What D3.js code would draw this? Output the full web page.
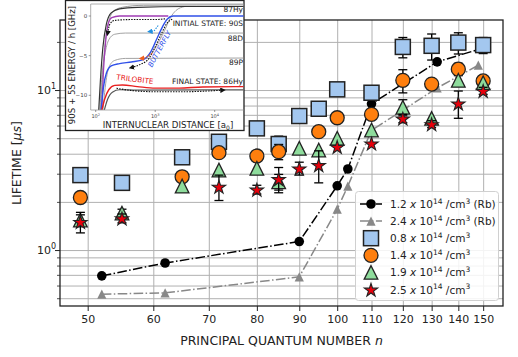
<!DOCTYPE html>
<html>
<head>
<meta charset="utf-8">
<script src="https://cdn.jsdelivr.net/npm/d3@7"></script>
<style>
body { margin: 0; background: #fff; }
text { font-family: "DejaVu Sans", sans-serif; }
</style>
</head>
<body>
<div id="chart"></div>
<script>
// ---------- data ----------
var xTicks = [50, 60, 70, 80, 90, 100, 110, 120, 130, 140, 150];
var yMajor = [1, 10];
var yMinor = [0.5, 0.6, 0.7, 0.8, 0.9, 2, 3, 4, 5, 6, 7, 8, 9, 20];

// Rb densities (lines)
var rbLowN = [52, 62, 90, 100, 103, 110, 132, 150];
var rbLow  = [0.69, 0.83, 1.13, 2.52, 3.21, 8.2, 15.0, 18.3];
var rbHighN = [52, 62, 90, 100, 103, 110, 132, 148];
var rbHigh  = [0.53, 0.54, 0.68, 1.80, 2.51, 5.6, 10.3, 14.3];

// 0.8e14 squares
var sqN   = [49, 55, 65, 72, 80, 85, 90, 95, 100, 110, 120, 130, 140, 150];
var sqV   = [2.94, 2.63, 3.80, 4.75, 5.76, 4.6, 6.88, 7.64, 10.1, 9.62, 18.6, 18.9, 19.8, 19.1];
var sqErr = [0, 0, 0, 0, 0, 0.55, 0, 0, 0, 0, 2.7, 3.5, 3.0, 2.2];
// 1.4e14 circles
var ciN   = [49, 65, 72, 80, 85, 95, 100, 110, 120, 130, 140, 150];
var ciV   = [2.13, 2.87, 4.06, 3.87, 4.12, 5.49, 6.71, 7.05, 11.5, 10.9, 13.5, 11.4];
var ciErr = [0, 0, 0, 0, 0.45, 0, 0, 0, 1.9, 0, 1.2, 0];
// 1.9e14 triangles
var trN   = [49, 55, 65, 72, 80, 85, 90, 95, 100, 110, 120, 130, 140, 150];
var trV   = [1.54, 1.70, 2.51, 3.16, 3.24, 2.67, 4.32, 4.22, 4.99, 5.62, 7.8, 6.65, 11.5, 11.1];
var trErr = [0.12, 0.1, 0, 0, 0, 0.3, 0, 0, 0, 0, 0.9, 0, 0, 0];
// 2.5e14 stars
var stN   = [49, 55, 72, 80, 85, 90, 95, 100, 110, 120, 130, 140, 150];
var stV   = [1.50, 1.58, 2.49, 2.39, 2.78, 3.24, 3.40, 4.42, 4.64, 6.65, 6.13, 8.26, 9.9];
var stErr = [0.22, 0.1, 0.45, 0.15, 0.5, 0.3, 0.77, 0, 0, 0.4, 0.3, 1.6, 0.5];

var legendDens = ["1.2", "2.4", "0.8", "1.4", "1.9", "2.5"];
var legendSuffix = [" (Rb)", " (Rb)", "", "", "", ""];

// inset: potential curves, [log10 R, E in GHz]
var curveHyTop  = [[2.05,-12],[2.08,-8],[2.12,-4],[2.18,-1],[2.26,0.4],[2.4,0.9],[2.7,1.1],[3.5,1.2],[4.6,1.2]];
var curveHyTop2 = [[2.08,-12],[2.11,-8],[2.15,-4],[2.21,-1],[2.3,0.6],[2.45,1.1],[2.8,1.35],[4.6,1.4]];
var curvePurple = [[2.1,-12],[2.13,-7],[2.17,-3],[2.21,-1],[2.27,-0.2],[2.4,0],[3.22,0]];
var curveD      = [[2.07,-12],[2.1,-8],[2.15,-5],[2.22,-3],[2.32,-2.3],[2.5,-2.15],[4.6,-2.15]];
var curveP      = [[2.12,-12],[2.16,-9],[2.22,-6.5],[2.32,-5.6],[2.5,-5.35],[4.6,-5.3]];
var curveBlue   = [[2.09,-12],[2.13,-9],[2.18,-7.2],[2.26,-6.3],[2.4,-6.0],[2.6,-5.8],[2.8,-5.5],[2.92,-4.6],[3.02,-3.0],[3.12,-1.4],[3.2,-0.4],[3.3,0],[4.6,0]];
var curveRise   = [[2.85,-5.3],[2.98,-4.3],[3.08,-3.0],[3.16,-1.8],[3.25,-0.3],[3.35,0.7],[3.5,1.2]];
var curveRed    = [[2.1,-12],[2.15,-10.5],[2.22,-9.3],[2.32,-8.75],[2.45,-8.7],[2.7,-8.9],[3.0,-9.1],[3.4,-9.1],[3.8,-8.95],[4.6,-8.9]];
var curveHyLow  = [[2.14,-12],[2.2,-10.5],[2.28,-9.6],[2.4,-9.3],[2.7,-9.35],[4.6,-9.3]];
var pathTop     = [[2.2,-2.2],[2.24,-1.0],[2.32,-0.55],[2.6,-0.45],[3.0,-0.45],[3.18,-0.35]];
var pathButter  = [[2.6,-6.5],[2.75,-6.1],[2.9,-5.3],[3.0,-3.9],[3.1,-2.3],[3.2,-0.9],[3.3,-0.35]];
var pathLow     = [[2.35,-9.1],[2.6,-9.4],[3.0,-9.55],[3.5,-9.55],[3.9,-9.45],[4.14,-9.35]];
var arrowOrange = [[2.95,-4.7],[2.83,-5.3],[2.77,-5.35]];
var arrowBlue   = [[3.05,-1.2],[2.98,-1.9],[2.91,-1.95]];

// ---------- layout ----------
var W = 518, H = 357;
var L = 60, R = 503, T = 20, B = 306;
var ink = "#222";

var svg = d3.select("#chart").append("svg").attr("width", W).attr("height", H);

var x = d3.scaleLog().domain([46.3, 158.5]).range([L, R]);
var y = d3.scaleLog().domain([0.447, 27.4]).range([B, T]);

// grid
svg.append("g").attr("transform", "translate(0," + B + ")")
  .call(d3.axisBottom(x).tickValues(xTicks).tickSize(-(B - T)).tickFormat(""))
  .call(g => g.select(".domain").remove())
  .selectAll("line").attr("stroke", "#b0b0b0").attr("stroke-width", 1);
svg.append("g").attr("transform", "translate(" + L + ",0)")
  .call(d3.axisLeft(y).tickValues(yMajor.concat(yMinor)).tickSize(-(R - L)).tickFormat(""))
  .call(g => g.select(".domain").remove())
  .selectAll("line").attr("stroke", "#b0b0b0").attr("stroke-width", 1);

// axes ticks
var xa = svg.append("g").attr("transform", "translate(0," + B + ")")
  .call(d3.axisBottom(x).tickValues(xTicks).tickSize(5).tickPadding(4).tickFormat(d3.format("d")));
xa.select(".domain").remove();
xa.selectAll("text").attr("font-size", "11px").attr("fill", ink);
xa.selectAll("line").attr("stroke", ink);

var ya = svg.append("g").attr("transform", "translate(" + L + ",0)")
  .call(d3.axisLeft(y).tickValues(yMajor).tickSize(5).tickFormat(""));
ya.select(".domain").remove();
ya.selectAll("line").attr("stroke", ink);
var ym = svg.append("g").attr("transform", "translate(" + L + ",0)")
  .call(d3.axisLeft(y).tickValues(yMinor).tickSize(3).tickFormat(""));
ym.select(".domain").remove();
ym.selectAll("line").attr("stroke", ink).attr("stroke-width", 0.8);

yMajor.forEach(function(v) {
  var t = svg.append("text").attr("x", 56).attr("y", y(v) + 4).attr("text-anchor", "end")
    .attr("font-size", "11px").attr("fill", ink);
  t.append("tspan").text("10");
  t.append("tspan").attr("dy", -5).attr("font-size", "8px").text(Math.round(Math.log10(v)));
});

// axis labels
var xl = svg.append("text").attr("x", (L + R) / 2).attr("y", 345).attr("text-anchor", "middle")
  .attr("font-size", "12.5px").attr("fill", ink);
xl.append("tspan").text("PRINCIPAL QUANTUM NUMBER ");
xl.append("tspan").attr("font-style", "italic").text("n");
var yl = svg.append("text").attr("transform", "translate(21," + ((T + B) / 2) + ") rotate(-90)")
  .attr("text-anchor", "middle").attr("font-size", "12.5px").attr("fill", ink);
yl.append("tspan").text("LIFETIME [");
yl.append("tspan").attr("font-style", "italic").text("μs");
yl.append("tspan").text("]");

// ---------- series ----------
var dashDot = "9.6,2.4,1.5,2.4";
function zip(ns, vs, es) { return ns.map(function(n, i) { return {n: n, v: vs[i], e: es ? es[i] : 0}; }); }

var line = d3.line().x(d => x(d.n)).y(d => y(d.v));
var rbA = zip(rbLowN, rbLow), rbB = zip(rbHighN, rbHigh);

svg.append("path").datum(rbA).attr("d", line).attr("fill", "none")
  .attr("stroke", "#000").attr("stroke-width", 1.5).attr("stroke-dasharray", dashDot);
svg.selectAll(".rba").data(rbA).enter().append("circle")
  .attr("cx", d => x(d.n)).attr("cy", d => y(d.v)).attr("r", 4.8).attr("fill", "#000");

function triPath(h) { return "M0," + (-h) + "L" + (-h) + "," + h + "L" + h + "," + h + "Z"; }

svg.append("path").datum(rbB).attr("d", line).attr("fill", "none")
  .attr("stroke", "#888").attr("stroke-width", 1.5).attr("stroke-dasharray", dashDot);
svg.selectAll(".rbb").data(rbB).enter().append("path")
  .attr("d", triPath(4.6)).attr("transform", d => "translate(" + x(d.n) + "," + y(d.v) + ")")
  .attr("fill", "#888");

function errBars(data) {
  var eb = svg.append("g").attr("stroke", "#000").attr("stroke-width", 1.3);
  data.filter(d => d.e > 0).forEach(function(d) {
    var cx = x(d.n), y0 = y(d.v - d.e), y1 = y(d.v + d.e);
    eb.append("line").attr("x1", cx).attr("x2", cx).attr("y1", y0).attr("y2", y1);
    eb.append("line").attr("x1", cx - 4.5).attr("x2", cx + 4.5).attr("y1", y0).attr("y2", y0);
    eb.append("line").attr("x1", cx - 4.5).attr("x2", cx + 4.5).attr("y1", y1).attr("y2", y1);
  });
}

var sqColor = "#a3c7ef", ciColor = "#ff7f0e", trColor = "#8edc9c", stColor = "#e8000b";
var sqD = zip(sqN, sqV, sqErr), ciD = zip(ciN, ciV, ciErr), trD = zip(trN, trV, trErr), stD = zip(stN, stV, stErr);

errBars(sqD);
svg.append("g").selectAll("rect").data(sqD).enter().append("rect")
  .attr("x", d => x(d.n) - 7.5).attr("y", d => y(d.v) - 7.5).attr("width", 15).attr("height", 15)
  .attr("fill", sqColor).attr("stroke", ink).attr("stroke-width", 1.5);

errBars(ciD);
svg.append("g").selectAll("circle").data(ciD).enter().append("circle")
  .attr("cx", d => x(d.n)).attr("cy", d => y(d.v)).attr("r", 7)
  .attr("fill", ciColor).attr("stroke", ink).attr("stroke-width", 1.3);

errBars(trD);
svg.append("g").selectAll("path").data(trD).enter().append("path")
  .attr("d", triPath(6.8)).attr("transform", d => "translate(" + x(d.n) + "," + y(d.v) + ")")
  .attr("fill", trColor).attr("stroke", ink).attr("stroke-width", 1.3);

var star = d3.symbol(d3.symbolStar).size(55);
errBars(stD);
svg.append("g").selectAll("path").data(stD).enter().append("path")
  .attr("d", star).attr("transform", d => "translate(" + x(d.n) + "," + (y(d.v) + 0.8) + ")")
  .attr("fill", stColor).attr("stroke", ink).attr("stroke-width", 1.1);

// frame
svg.append("rect").attr("x", L).attr("y", T).attr("width", R - L).attr("height", B - T)
  .attr("fill", "none").attr("stroke", ink).attr("stroke-width", 1.3);

// ---------- legend ----------
var lg = svg.append("g");
lg.append("rect").attr("x", 355.5).attr("y", 191.5).attr("width", 143).attr("height", 109).attr("rx", 3)
  .attr("fill", "#fff").attr("fill-opacity", 0.85).attr("stroke", "#d0d0d0");
var ly = d3.scaleLinear().domain([0, 5]).range([204, 289.5]);
legendDens.forEach(function(dv, i) {
  var cy = ly(i), cx = 371;
  var it = lg.append("g");
  if (i === 0) {
    it.append("line").attr("x1", 360).attr("x2", 382).attr("y1", cy).attr("y2", cy).attr("stroke", "#000").attr("stroke-width", 1.5).attr("stroke-dasharray", dashDot);
    it.append("circle").attr("cx", cx).attr("cy", cy).attr("r", 4.8).attr("fill", "#000");
  } else if (i === 1) {
    it.append("line").attr("x1", 360).attr("x2", 382).attr("y1", cy).attr("y2", cy).attr("stroke", "#888").attr("stroke-width", 1.5).attr("stroke-dasharray", dashDot);
    it.append("path").attr("d", triPath(4.6)).attr("transform", "translate(" + cx + "," + cy + ")").attr("fill", "#888");
  } else if (i === 2) {
    it.append("rect").attr("x", cx - 7.5).attr("y", cy - 7.5).attr("width", 15).attr("height", 15).attr("fill", sqColor).attr("stroke", ink).attr("stroke-width", 1.5);
  } else if (i === 3) {
    it.append("circle").attr("cx", cx).attr("cy", cy).attr("r", 7).attr("fill", ciColor).attr("stroke", ink).attr("stroke-width", 1.3);
  } else if (i === 4) {
    it.append("path").attr("d", triPath(6.8)).attr("transform", "translate(" + cx + "," + cy + ")").attr("fill", trColor).attr("stroke", ink).attr("stroke-width", 1.3);
  } else {
    it.append("path").attr("d", star).attr("transform", "translate(" + cx + "," + (cy + 0.8) + ")").attr("fill", stColor).attr("stroke", ink).attr("stroke-width", 1.1);
  }
  var t = it.append("text").attr("x", 390).attr("y", cy + 4).attr("font-size", "10.5px").attr("fill", ink);
  t.append("tspan").text(dv + " ");
  t.append("tspan").attr("font-style", "italic").text("x");
  t.append("tspan").text(" 10");
  t.append("tspan").attr("dy", -4.5).attr("font-size", "7.5px").text("14");
  t.append("tspan").attr("dy", 4.5).text(" /cm");
  t.append("tspan").attr("dy", -4.5).attr("font-size", "7.5px").text("3");
  if (legendSuffix[i]) t.append("tspan").attr("dy", 4.5).text(legendSuffix[i]);
});

// ---------- inset ----------
var ins = svg.append("g");
ins.append("rect").attr("x", 65.5).attr("y", 0.5).attr("width", 178.5).attr("height", 130)
  .attr("fill", "#fff").attr("stroke", ink).attr("stroke-width", 1.3);

var IL = 90.7, IR = 243.5, IT = 4, IB = 110;
var xi = d3.scaleLinear().domain([2, 4]).range([95.7, 214.7]);
var yi = d3.scaleLinear().domain([0, -10]).range([16, 95.3]);

var defs = svg.append("defs");
defs.append("clipPath").attr("id", "iclip").append("rect").attr("x", IL).attr("y", IT).attr("width", IR - IL).attr("height", IB - IT);
function arrowHead(id, col) {
  defs.append("marker").attr("id", id).attr("viewBox", "0 0 10 10").attr("refX", 5).attr("refY", 5)
    .attr("markerWidth", 5).attr("markerHeight", 5).attr("orient", "auto-start-reverse")
    .append("path").attr("d", "M0,0L10,5L0,10Z").attr("fill", col);
}
arrowHead("ahk", "#111"); arrowHead("aho", "#f06020"); arrowHead("ahb", "#2090e0");

var il = d3.line().x(d => xi(d[0])).y(d => yi(d[1])).curve(d3.curveMonotoneX);
var ip = ins.append("g").attr("clip-path", "url(#iclip)");
function icurve(data, col, w, dash) {
  return ip.append("path").datum(data).attr("d", il).attr("fill", "none").attr("stroke", col)
    .attr("stroke-width", w).attr("stroke-dasharray", dash || null);
}
icurve(curveD, "#999", 0.9);
icurve(curveP, "#999", 0.9);
icurve(curveRise, "#999", 0.9);
icurve(curveHyTop2, "#999", 1.0);
icurve(curveHyTop, "#333", 1.2);
icurve(curveHyLow, "#555", 1.2);
icurve(curvePurple, "#a03cb4", 1.3);
icurve(curveBlue, "#3050e8", 1.4);
icurve(curveRed, "#e82020", 1.4);
icurve(pathTop, "#111", 1.1, "1.5,1.2").attr("marker-start", "url(#ahk)");
icurve(pathButter, "#111", 1.1, "1.5,1.2").attr("marker-start", "url(#ahk)");
icurve(pathLow, "#111", 1.1, "1.5,1.2").attr("marker-end", "url(#ahk)");
ip.append("path").datum(arrowOrange).attr("d", d3.line().x(d => xi(d[0])).y(d => yi(d[1])))
  .attr("fill", "none").attr("stroke", "#f06020").attr("stroke-width", 1.1).attr("stroke-dasharray", "1.5,1.2").attr("marker-end", "url(#aho)");
ip.append("path").datum(arrowBlue).attr("d", d3.line().x(d => xi(d[0])).y(d => yi(d[1])))
  .attr("fill", "none").attr("stroke", "#2090e0").attr("stroke-width", 1.1).attr("stroke-dasharray", "1.5,1.2").attr("marker-end", "url(#ahb)");

// inset frame
ins.append("path").attr("d", "M" + IR + "," + IT + "H" + IL + "V" + IB + "H" + IR)
  .attr("fill", "none").attr("stroke", "#999").attr("stroke-width", 0.8);

// inset ticks
var iyt = [0, -5, -10];
iyt.forEach(function(v) {
  ins.append("line").attr("x1", IL - 2).attr("x2", IL).attr("y1", yi(v)).attr("y2", yi(v)).attr("stroke", "#555").attr("stroke-width", 0.6);
  ins.append("text").attr("x", IL - 3.5).attr("y", yi(v) + 2).attr("text-anchor", "end").attr("font-size", "5.5px").attr("fill", "#444")
    .text(v < 0 ? "\u2212" + Math.abs(v) : v);
});
var ixt = [2, 3, 4];
ixt.forEach(function(v) {
  ins.append("line").attr("x1", xi(v)).attr("x2", xi(v)).attr("y1", IB).attr("y2", IB + 2).attr("stroke", "#555").attr("stroke-width", 0.6);
  var t = ins.append("text").attr("x", xi(v)).attr("y", IB + 8).attr("text-anchor", "middle").attr("font-size", "5px").attr("fill", "#444");
  t.append("tspan").text("10");
  t.append("tspan").attr("dy", -2).attr("font-size", "3.5px").text(v);
});

// inset labels
ins.append("text").attr("transform", "translate(74.5,65) rotate(-90)").attr("text-anchor", "middle")
  .attr("font-size", "8.6px").attr("fill", ink).text("90S + 5S ENERGY / h [GHz]");
var ixl = ins.append("text").attr("x", 168).attr("y", 127.5).attr("text-anchor", "middle")
  .attr("font-size", "8.6px").attr("fill", ink);
ixl.append("tspan").text("INTERNUCLEAR DISTANCE [a");
ixl.append("tspan").attr("dy", 2).attr("font-size", "6px").text("0");
ixl.append("tspan").attr("dy", -2).text("]");

var stateLabels = ["87Hy", "INITIAL STATE: 90S", "88D", "89P", "FINAL STATE: 86Hy"];
var stateE = [0.5, -1.2, -3.2, -6.2, -8.6];
stateLabels.forEach(function(s, i) {
  ins.append("text").attr("x", 243).attr("y", yi(stateE[i])).attr("text-anchor", "end")
    .attr("font-size", "7.5px").attr("fill", ink).text(s);
});
ins.append("text").attr("transform", "translate(116,79.5) rotate(7)").attr("font-size", "7.3px")
  .attr("fill", "#e82020").text("TRILOBITE");
ins.append("text").attr("transform", "translate(161.7,50) rotate(-61)").attr("text-anchor", "middle")
  .attr("font-size", "7.2px").attr("font-style", "italic").attr("fill", "#3050e8").text("BUTTERFLY");
</script>
</body>
</html>
